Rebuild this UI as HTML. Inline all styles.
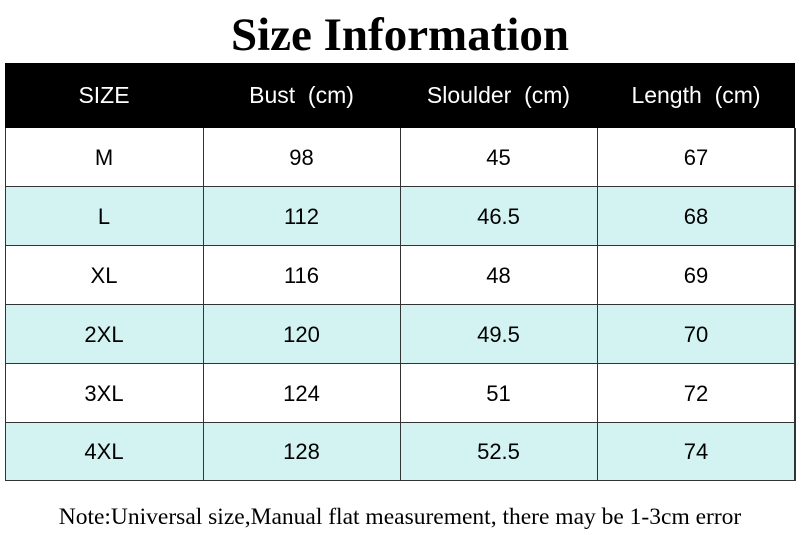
<!DOCTYPE html>
<html><head><style>
body{margin:0;width:800px;height:553px;background:#fff;position:relative;overflow:hidden;font-family:"Liberation Sans","DejaVu Sans",sans-serif}
.t{position:absolute;left:0;width:800px;top:10px;text-align:center;font-family:"Liberation Serif",serif;font-weight:bold;font-size:47px;line-height:50px;color:#000}
.hdr{position:absolute;left:5px;top:63px;width:790px;height:65px;background:#000}
.c{position:absolute;text-align:center;font-size:22px;display:flex;align-items:center;justify-content:center;white-space:pre}
.h{color:#fff;top:63px;height:65px;font-size:23px}
.r{position:absolute;left:5px;width:789px;border:1px solid #333;border-top:none}
.v{position:absolute;top:128px;width:1px;height:352px;background:#333}
.n{position:absolute;left:0;width:800px;top:504px;text-align:center;font-family:"Liberation Serif",serif;font-size:23.5px;color:#000}
</style></head><body>
<div class="t">Size Information</div>
<div class="hdr"></div>
<div class="c h" style="left:5px;width:198px">SIZE</div>
<div class="c h" style="left:203px;width:197px">Bust  (cm)</div>
<div class="c h" style="left:400px;width:197px">Sloulder  (cm)</div>
<div class="c h" style="left:597px;width:198px">Length  (cm)</div>
<div class="r" style="top:128px;height:58px;background:#fff"></div>
<div class="r" style="top:187px;height:58px;background:#d3f3f3"></div>
<div class="r" style="top:246px;height:58px;background:#fff"></div>
<div class="r" style="top:305px;height:58px;background:#d3f3f3"></div>
<div class="r" style="top:364px;height:58px;background:#fff"></div>
<div class="r" style="top:423px;height:57px;background:#d3f3f3"></div>
<div class="v" style="left:5px"></div>
<div class="v" style="left:203px"></div>
<div class="v" style="left:400px"></div>
<div class="v" style="left:597px"></div>
<div class="v" style="left:794px"></div>
<div class="c" style="left:5px;width:198px;top:128px;height:59px">M</div><div class="c" style="left:203px;width:197px;top:128px;height:59px">98</div><div class="c" style="left:400px;width:197px;top:128px;height:59px">45</div><div class="c" style="left:597px;width:198px;top:128px;height:59px">67</div>
<div class="c" style="left:5px;width:198px;top:187px;height:59px">L</div><div class="c" style="left:203px;width:197px;top:187px;height:59px">112</div><div class="c" style="left:400px;width:197px;top:187px;height:59px">46.5</div><div class="c" style="left:597px;width:198px;top:187px;height:59px">68</div>
<div class="c" style="left:5px;width:198px;top:246px;height:59px">XL</div><div class="c" style="left:203px;width:197px;top:246px;height:59px">116</div><div class="c" style="left:400px;width:197px;top:246px;height:59px">48</div><div class="c" style="left:597px;width:198px;top:246px;height:59px">69</div>
<div class="c" style="left:5px;width:198px;top:305px;height:59px">2XL</div><div class="c" style="left:203px;width:197px;top:305px;height:59px">120</div><div class="c" style="left:400px;width:197px;top:305px;height:59px">49.5</div><div class="c" style="left:597px;width:198px;top:305px;height:59px">70</div>
<div class="c" style="left:5px;width:198px;top:364px;height:59px">3XL</div><div class="c" style="left:203px;width:197px;top:364px;height:59px">124</div><div class="c" style="left:400px;width:197px;top:364px;height:59px">51</div><div class="c" style="left:597px;width:198px;top:364px;height:59px">72</div>
<div class="c" style="left:5px;width:198px;top:423px;height:58px">4XL</div><div class="c" style="left:203px;width:197px;top:423px;height:58px">128</div><div class="c" style="left:400px;width:197px;top:423px;height:58px">52.5</div><div class="c" style="left:597px;width:198px;top:423px;height:58px">74</div>
<div class="n">Note:Universal size,Manual flat measurement, there may be 1-3cm error</div>
</body></html>
